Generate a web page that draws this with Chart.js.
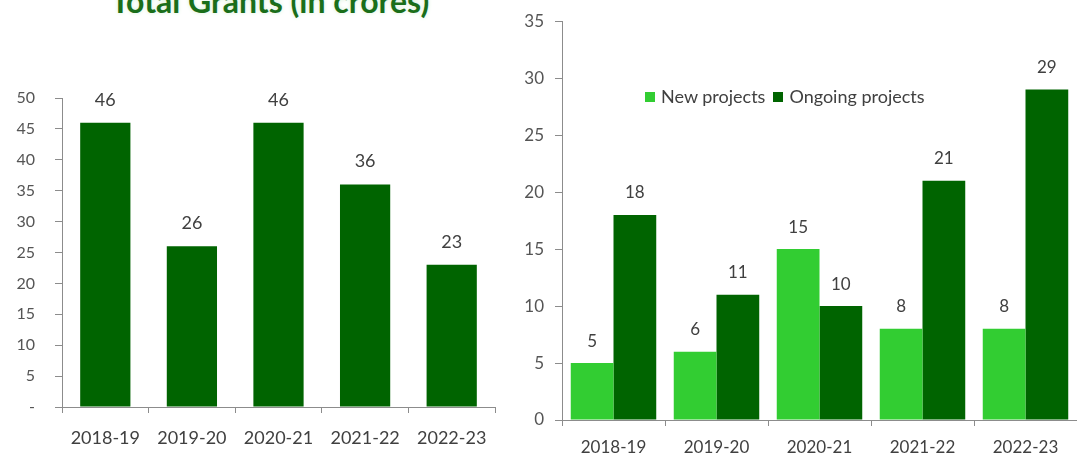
<!DOCTYPE html>
<html>
<head>
<meta charset="utf-8">
<script src="https://cdn.jsdelivr.net/npm/chart.js@4.4.1/dist/chart.umd.min.js"></script>
<style>
    html, body { margin: 0; padding: 0; background: #fff; overflow: hidden; }
    #wrap { position: relative; width: 1077px; height: 453px; }
    #title { position: absolute; left: 0; width: 540px; top: -19px; text-align: center; font: bold 32px Lato, sans-serif; color: #1a6e1a; text-shadow: 0 0 4px #d8f0d8; white-space: nowrap; }
    #c-left { position: absolute; left: 0; top: 0; }
    #c-right { position: absolute; left: 500px; top: 0; }
    #legend { position: absolute; left: 645px; top: 85px; font: 18px Lato, sans-serif; color: #404040; white-space: nowrap; line-height: 22px; }
    #legend span.box { display: inline-block; width: 10px; height: 10px; margin-right: 6px; vertical-align: 1px; }
    #legend span.item { margin-right: 8px; }
</style>
</head>
<body>
<div id="wrap">
    <div id="title">Total Grants (in crores)</div>
    <canvas id="c-left" width="505" height="453"></canvas>
    <canvas id="c-right" width="577" height="453"></canvas>
    <div id="legend"></div>
</div>
<script>
(function () {
    "use strict";

    const YEARS = ["2018-19", "2019-20", "2020-21", "2021-22", "2022-23"];
    const GRANTS = [46, 26, 46, 36, 23];
    const NEW_PROJECTS = [5, 6, 15, 8, 8];
    const ONGOING_PROJECTS = [18, 11, 10, 21, 29];

    const DARK = "#006400";
    const LIGHT = "#32cd32";
    const TEXT = "#404040";
    const AXIS = "#8c8c8c";
    const FONT = "Lato, sans-serif";

    // value labels above every bar
    const valueLabels = {
        id: "valueLabels",
        afterDatasetsDraw(chart, args, opts) {
            const ctx = chart.ctx;
            ctx.save();
            ctx.fillStyle = TEXT;
            ctx.font = `${opts.size || 15}px ${FONT}`;
            ctx.textAlign = "center";
            ctx.textBaseline = "middle";
            chart.data.datasets.forEach((ds, i) => {
                chart.getDatasetMeta(i).data.forEach((bar, j) => {
                    ctx.fillText(String(ds.data[j]), bar.x, bar.y - (opts.offset || 21));
                });
            });
            ctx.restore();
        },
    };

    const axisX = (height, padding, size) => ({
        offset: true,
        grid: { display: true, drawOnChartArea: false, offset: true, tickLength: 6, color: AXIS },
        border: { display: true, color: AXIS },
        ticks: { color: TEXT, font: { family: FONT, size: size }, padding: padding, maxRotation: 0 },
        afterFit(s) { s.height = height; },
    });
    const axisY = (max, width, size, padding, cb) => ({
        min: 0, max: max,
        grid: { display: true, drawOnChartArea: false, tickLength: 7, color: AXIS },
        border: { display: true, color: AXIS },
        ticks: { stepSize: 5, color: "#555", font: { family: FONT, size: size }, padding: padding, callback: cb },
        afterFit(s) { s.width = width; },
    });

    new Chart(document.getElementById("c-left"), {
        type: "bar",
        data: { labels: YEARS, datasets: [{ label: "Total Grants", data: GRANTS, backgroundColor: DARK, categoryPercentage: 1, barPercentage: 0.58 }] },
        options: {
            responsive: false, animation: false, devicePixelRatio: 1,
            layout: { padding: { top: 98, right: 10, left: 0, bottom: 0 } },
            plugins: { legend: { display: false }, tooltip: { enabled: false }, valueLabels: { size: 18, offset: 23 } },
            scales: { x: axisX(46, 14, 18), y: axisY(50, 62, 16, 20, (v) => (v === 0 ? "-" : v)) },
        },
        plugins: [valueLabels],
    });

    const rightChart = new Chart(document.getElementById("c-right"), {
        type: "bar",
        data: {
            labels: YEARS,
            datasets: [
                { label: "New projects", data: NEW_PROJECTS, backgroundColor: LIGHT, categoryPercentage: 0.83, barPercentage: 1 },
                { label: "Ongoing projects", data: ONGOING_PROJECTS, backgroundColor: DARK, categoryPercentage: 0.83, barPercentage: 1 },
            ],
        },
        options: {
            responsive: false, animation: false, devicePixelRatio: 1,
            layout: { padding: { top: 20, right: 0, left: 0, bottom: 0 } },
            plugins: { legend: { display: false }, tooltip: { enabled: false }, valueLabels: { size: 17, offset: 22 } },
            scales: { x: axisX(33, 11, 17), y: axisY(35, 62, 17, 11) },
        },
        plugins: [valueLabels],
    });

    document.getElementById("legend").innerHTML = rightChart.data.datasets.map((ds) =>
        `<span class="item"><span class="box" style="background:${ds.backgroundColor}"></span>${ds.label}</span>`
    ).join("");
})();
</script>
</body>
</html>
